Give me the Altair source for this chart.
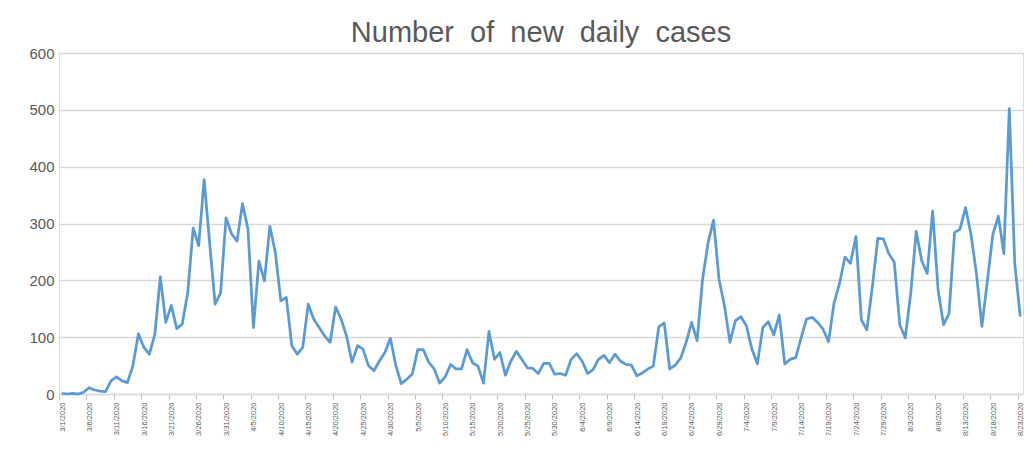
import altair as alt
import pandas as pd

start_date = "2020-03-01"

new_cases = [
    1, 0, 1, 0, 3, 11, 7, 5, 4, 23,
    30, 23, 20, 50, 106, 82, 70, 105, 206, 126,
    156, 115, 123, 178, 292, 261, 377, 266, 158, 178,
    310, 282, 269, 335, 290, 117, 234, 199, 295, 249,
    164, 170, 85, 70, 82, 158, 132, 117, 102, 91,
    153, 132, 102, 56, 85, 79, 50, 41, 58, 73,
    98, 50, 18, 26, 35, 78, 78, 56, 44, 19,
    30, 52, 44, 44, 78, 55, 49, 19, 110, 61,
    73, 33, 58, 75, 61, 46, 45, 36, 54, 54,
    35, 36, 33, 61, 71, 58, 36, 43, 61, 68,
    55, 70, 58, 52, 51, 32, 37, 44, 49, 118,
    125, 44, 51, 63, 91, 126, 94, 202, 266, 306,
    202, 155, 91, 129, 136, 120, 79, 53, 117, 127,
    104, 139, 53, 61, 64, 99, 132, 135, 126, 114,
    92, 160, 194, 241, 230, 277, 130, 113, 189, 274,
    273, 247, 232, 122, 99, 177, 286, 235, 212, 322,
    183, 122, 142, 284, 290, 328, 281, 212, 119, 200,
    281, 313, 247, 502, 229, 136,
]

y_ticks = [0, 100, 200, 300, 400, 500, 600]
title_text = "Number\u00a0 of\u00a0 new\u00a0 daily\u00a0 cases"

dates = pd.date_range(start_date, periods=len(new_cases), freq="D")
df = pd.DataFrame({
    "day": list(range(len(new_cases))),
    "date": [f"{d.month}/{d.day}/{d.year}" for d in dates],
    "cases": new_cases,
})

n = len(new_cases)
tick_vals = [k * 5 - 0.5 for k in range((n + 4) // 5)]

label_expr = "timeFormat(datetime(2020, 2, 1 + round(datum.value + 0.5)), '%-m/%-d/%Y')"

chart = alt.Chart(df).mark_line(
    color="#5b9bd5", strokeWidth=2.75, strokeJoin="round"
).encode(
    x=alt.X(
        "day:Q",
        scale=alt.Scale(domain=[-0.5, n - 0.5], nice=False, zero=False),
        axis=alt.Axis(
            values=tick_vals, labelExpr=label_expr, labelAngle=270,
            labelOffset=3, labelFontSize=7.5, labelColor="#595959",
            labelFont="Liberation Sans", labelOverlap=False, labelPadding=3,
            tickColor="#bfbfbf", tickSize=5, tickWidth=1,
            domainColor="#d9d9d9", domainWidth=1.5, grid=False, title=None,
        ),
    ),
    y=alt.Y(
        "cases:Q",
        scale=alt.Scale(domain=[0, 600], nice=False),
        axis=alt.Axis(
            values=y_ticks, grid=True, gridColor="#d9d9d9", gridWidth=1.5,
            domain=False, ticks=False, labelFontSize=15, labelColor="#595959",
            labelFont="Liberation Sans", labelPadding=5, title=None,
        ),
    ),
    tooltip=["date:N", "cases:Q"],
).properties(
    width=964,
    height=341,
    title=alt.Title(
        title_text, fontSize=29, color="#595959", font="Liberation Sans",
        fontWeight="normal", anchor="middle", offset=2, dy=4,
    ),
    padding={"left": 51, "top": 45, "right": 2, "bottom": 44},
    autosize=alt.AutoSizeParams(type="none"),
).configure_view(stroke=None).configure(background="white")

chart.save("out.html", embed_options={"renderer": "svg", "actions": False})
